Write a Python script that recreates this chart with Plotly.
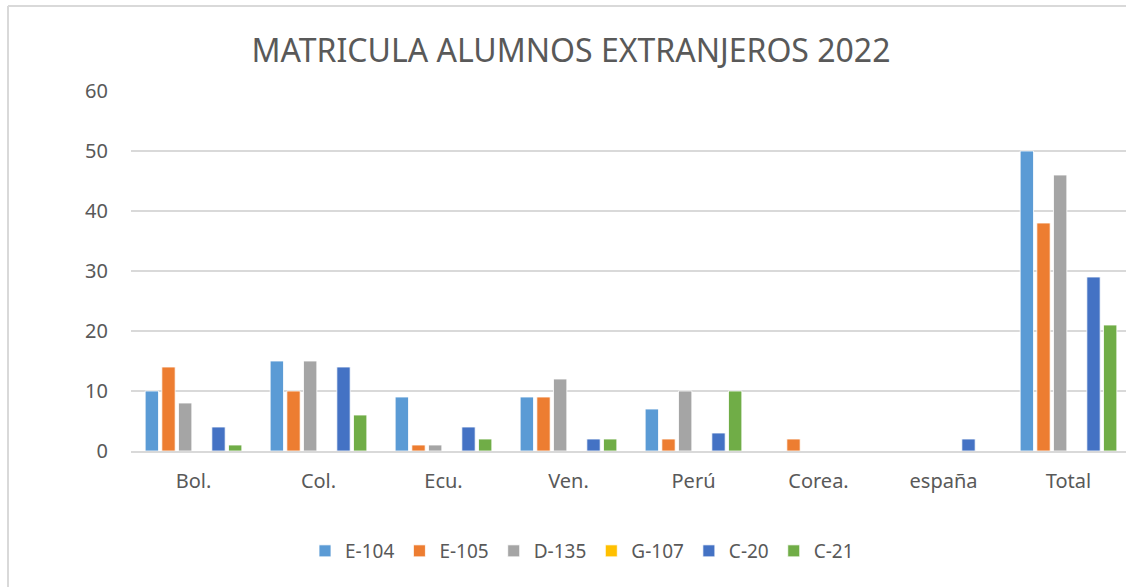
import plotly.graph_objects as go

categories = ["Bol.", "Col.", "Ecu.", "Ven.", "Perú", "Corea.", "españa", "Total"]
series_names = ["E-104", "E-105", "D-135", "G-107", "C-20", "C-21"]
e104 = [10, 15, 9, 9, 7, 0, 0, 50]
e105 = [14, 10, 1, 9, 2, 2, 0, 38]
d135 = [8, 15, 1, 12, 10, 0, 0, 46]
g107 = [0, 0, 0, 0, 0, 0, 0, 0]
c20 = [4, 14, 4, 2, 3, 0, 2, 29]
c21 = [1, 6, 2, 2, 10, 0, 0, 21]
colors = ["#5B9BD5", "#ED7D31", "#A5A5A5", "#FFC000", "#4472C4", "#70AD47"]

values = [e104, e105, d135, g107, c20, c21]

FONT = "Noto Sans"
fig = go.Figure()
for name, vals, col in zip(series_names, values, colors):
    fig.add_trace(go.Bar(
        x=categories, y=vals, name=name,
        marker=dict(color=col, line=dict(color="white", width=0.8)),
    ))

bx = (8 - 131) / 995
by = (451 - 6) / 360
fig.update_layout(
    width=1126, height=587,
    margin=dict(l=131, r=0, t=91, b=136),
    paper_bgcolor="white", plot_bgcolor="white",
    barmode="group", bargap=0.2, bargroupgap=0.2,
    font=dict(family=FONT, color="#595959", size=19),
    title=dict(text="MATRICULA ALUMNOS EXTRANJEROS 2022",
               x=571 / 1126, xref="container", xanchor="center",
               y=1 - 51 / 587, yanchor="middle",
               font=dict(size=32, color="#595959", family=FONT)),
    legend=dict(orientation="h", x=(582 - 131) / 995, xanchor="center",
                y=(451 - 551) / 360, yanchor="middle",
                font=dict(size=19, color="#595959"),
                itemwidth=30, traceorder="normal"),
    showlegend=True,
    xaxis=dict(range=[-0.5, 7.46], showline=True, linecolor="#D9D9D9", linewidth=1.5,
               ticks="", showgrid=False, ticklabelstandoff=11,
               tickfont=dict(size=20, color="#595959")),
    yaxis=dict(range=[0, 60], dtick=10, showgrid=True, gridcolor="#D9D9D9",
               gridwidth=1.5, zeroline=False, ticks="", ticklabelstandoff=22,
               tickfont=dict(size=20, color="#595959")),
    shapes=[
        dict(type="line", xref="paper", yref="paper", x0=bx, x1=1.05, y0=by, y1=by,
             line=dict(color="#D9D9D9", width=2), layer="below"),
        dict(type="line", xref="paper", yref="paper", x0=bx, x1=bx, y0=by, y1=-0.5,
             line=dict(color="#D9D9D9", width=2), layer="below"),
    ],
)

fig.write_html("out.html", config={"displayModeBar": False},
               post_script="document.body.style.margin='0';document.body.style.overflow='hidden';document.documentElement.style.overflow='hidden';")
